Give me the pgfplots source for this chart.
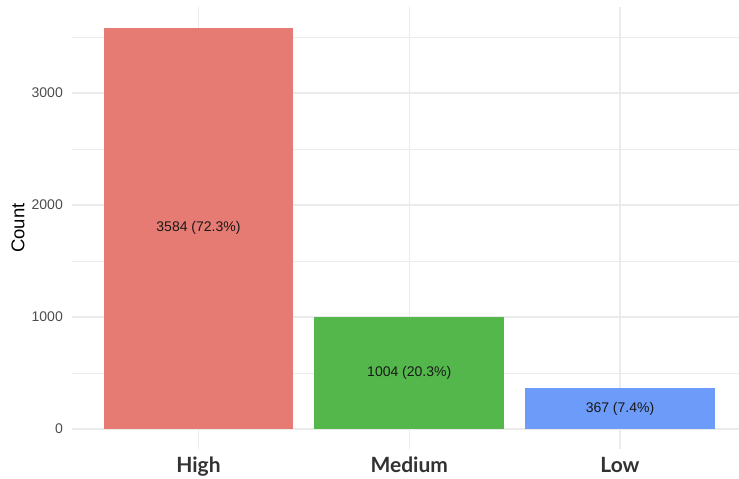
\documentclass[border=0pt]{standalone}
\usepackage{pgfplots}
\pgfplotsset{compat=1.18}
\usepackage{fontspec}
\setmainfont{Liberation Sans}
\newfontfamily\latofont{Lato}

\definecolor{barhigh}{RGB}{229,123,114}
\definecolor{barmed}{RGB}{83,183,75}
\definecolor{barlow}{RGB}{109,155,249}
\definecolor{gridcol}{RGB}{235,235,235}
\definecolor{ticktext}{RGB}{77,77,77}
\definecolor{cattext}{RGB}{50,50,50}

\begin{document}
\begin{tikzpicture}
\useasboundingbox (0,0) rectangle (739pt,479pt);
\begin{axis}[
  at={(72pt,30pt)}, anchor=south west,
  scale only axis, width=667pt, height=442pt,
  xmin=-0.6002, xmax=2.5647, ymin=-179, ymax=3768,
  axis line style={draw=none},
  tick style={draw=none},
  xtick={0,1,2}, xticklabels={High,Medium,Low},
  ytick={0,1000,2000,3000},
  minor ytick={500,1500,2500,3500},
  grid=both,
  major grid style={gridcol, line width=1.1pt},
  minor grid style={gridcol, line width=0.6pt},
  /pgf/number format/assume math mode=true,
  scaled y ticks=false,
  yticklabel={\pgfmathprintnumber[1000 sep={}]{\tick}},
  xticklabel style={font=\fontsize{21}{21}\latofont\bfseries, text=cattext,
    anchor=north, inner sep=0pt},
  xticklabel shift=8pt,
  yticklabel style={font=\fontsize{14}{14}\selectfont, text=ticktext,
    anchor=east, inner sep=0pt},
  yticklabel shift=9pt,
  ylabel={Count},
  ylabel style={font=\fontsize{18.5}{18.5}\selectfont, at={(axis description cs:0,0.5)},
    anchor=center, yshift=54pt, inner sep=0pt},
  clip=false,
]
\addplot[ybar, bar width=0.9, bar shift=0pt, fill=barhigh, draw=none] coordinates {(0,3584)};
\addplot[ybar, bar width=0.9, bar shift=0pt, fill=barmed, draw=none] coordinates {(1,1004)};
\addplot[ybar, bar width=0.9, bar shift=0pt, fill=barlow, draw=none] coordinates {(2,367)};
\node[font=\fontsize{14}{14}\selectfont, text=black!90] at (axis cs:0,3584/2) {3584 (72.3\%)};
\node[font=\fontsize{14}{14}\selectfont, text=black!90] at (axis cs:1,1004/2) {1004 (20.3\%)};
\node[font=\fontsize{14}{14}\selectfont, text=black!90] at (axis cs:2,367/2) {367 (7.4\%)};
\end{axis}
\end{tikzpicture}
\end{document}
